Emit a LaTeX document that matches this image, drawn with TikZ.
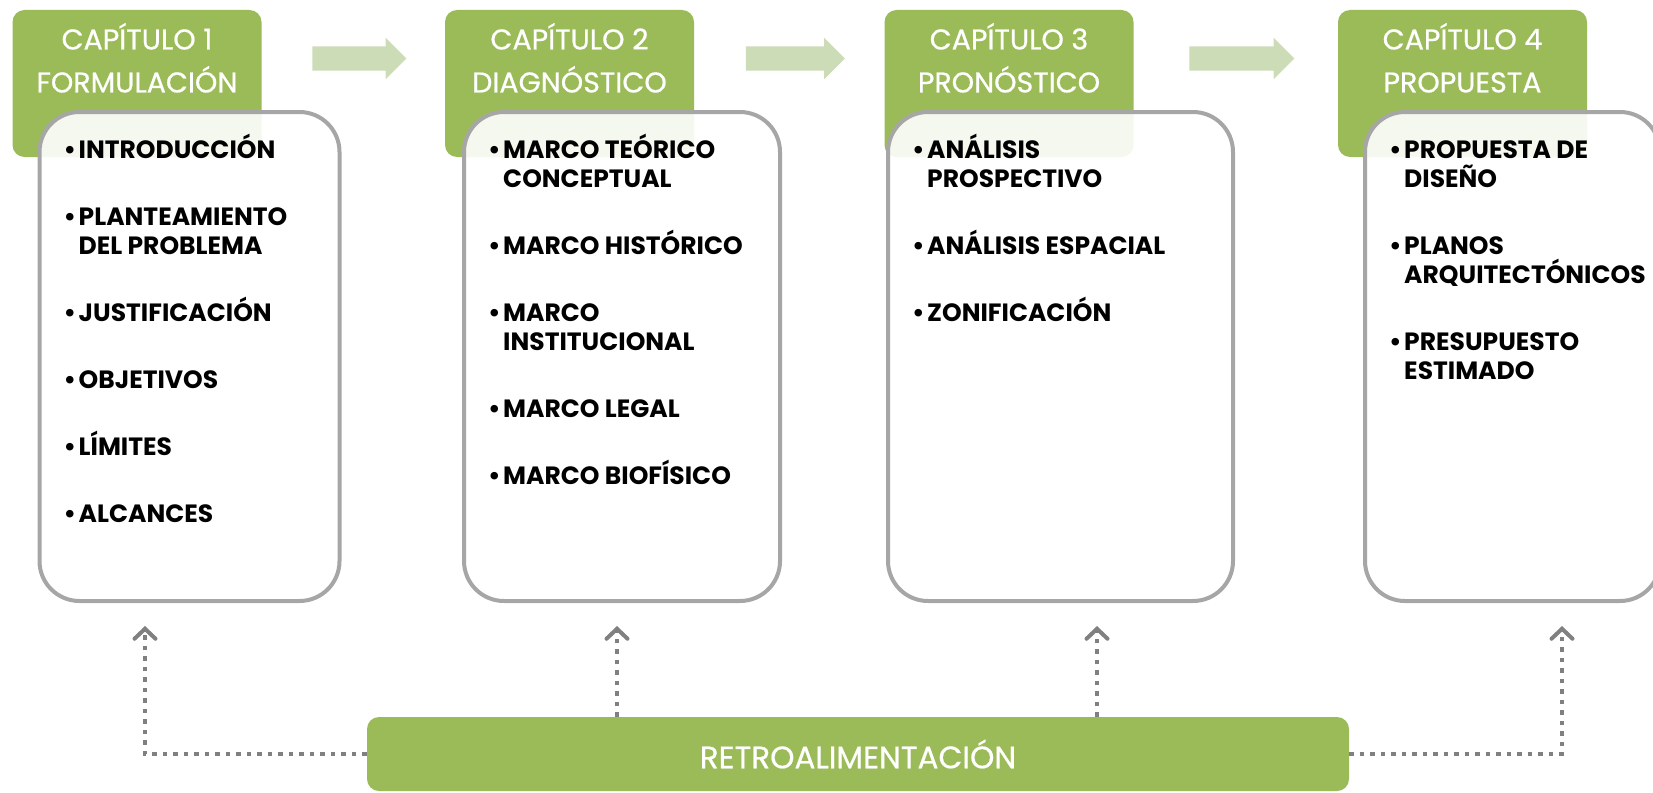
\documentclass[tikz,border=0pt]{standalone}
\usepackage{fontspec}
\setmainfont{Poppins}
\newfontfamily\capfont[FakeBold=0.6]{Poppins}
\usetikzlibrary{positioning,shapes.arrows,arrows.meta,calc}
\definecolor{verde}{HTML}{9BBB59}
\definecolor{verdeclaro}{HTML}{CCDCB7}
\definecolor{borde}{HTML}{A6A6A6}
\definecolor{punteado}{HTML}{808080}
\newcommand{\vin}[1]{\textbullet\kern2.5pt&\smash{#1}}
\newcommand{\sig}[1]{&\smash{#1}}
\tikzset{
    capbox/.style={fill=verde, rounded corners=12pt, minimum width=249pt, minimum height=147pt},
    captxt/.style={text=white, align=center, inner sep=0pt, font=\capfont\fontsize{28.5}{43}\selectfont},
    caja/.style={draw=borde, line width=4pt, fill=white, fill opacity=0.9, rounded corners=40pt, minimum height=489pt},
    lista/.style={inner sep=0pt, anchor=north west, font=\bfseries\fontsize{25}{29}\selectfont},
    flecha/.style={single arrow, fill=verdeclaro, inner sep=12pt, single arrow head extend=8.5pt},
    retro/.style={fill=verde, rounded corners=12pt, minimum width=982pt, minimum height=74pt, text=white, font=\capfont\fontsize{31}{36}\selectfont},
    flujo/.style={draw=punteado, line width=4pt, dash pattern=on 4.5pt off 6pt, -{Straight Barb[length=10pt,width=21pt,line cap=round]}}
}
\begin{document}
\begin{tikzpicture}[x=1pt, y=-1pt]
        \useasboundingbox (0,0) rectangle (1653,792);
        \clip (0,0) rectangle (1653,792);
        % capitulos
        \node[capbox] (c1) at (137,83.5) {};
        \node[capbox] (c2) at (569.5,83.5) {};
        \node[capbox] (c3) at (1009,83.5) {};
        \node[capbox] (c4) at (1462.5,83.5) {};
        \node[captxt, below=13pt of c1.north] (t1) {CAPÍTULO 1\\FORMULACIÓN};
        \node[captxt, below=13pt of c2.north] (t2) {CAPÍTULO 2\\DIAGNÓSTICO};
        \node[captxt, below=13pt of c3.north] (t3) {CAPÍTULO 3\\PRONÓSTICO};
        \node[captxt, below=13pt of c4.north] (t4) {CAPÍTULO 4\\PROPUESTA};
        \node[flecha, minimum height=94pt] (f1) at ($(c1.east)!.5!(c2.west)+(0,-25)$) {};
        \node[flecha, minimum height=99pt] (f2) at ($(c2.east)!.5!(c3.west)+(0,-25)$) {};
        \node[flecha, minimum height=105pt] (f3) at ($(c3.east)!.5!(c4.west)+(0,-25)$) {};
        % contenidos
        \node[caja, minimum width=300pt] (b1) at (189.5,356.5) {};
        \node[caja, minimum width=316pt] (b2) at (622,356.5) {};
        \node[caja, minimum width=345pt] (b3) at (1060.5,356.5) {};
        \node[caja, minimum width=295pt] (b4) at (1512.5,356.5) {};
        \node[lista, below right=27.5pt and 26pt of b1.north west] (l1) {\begin{tabular}{@{}l@{}l@{}}
            \vin{INTRODUCCIÓN}\\[38pt]
            \vin{PLANTEAMIENTO}\\ \sig{DEL PROBLEMA}\\[38pt]
            \vin{JUSTIFICACIÓN}\\[38pt]
            \vin{OBJETIVOS}\\[38pt]
            \vin{LÍMITES}\\[38pt]
            \vin{ALCANCES}
        \end{tabular}};
        \node[lista, below right=27.5pt and 26pt of b2.north west] (l2) {\begin{tabular}{@{}l@{}l@{}}
            \vin{MARCO TEÓRICO}\\ \sig{CONCEPTUAL}\\[38pt]
            \vin{MARCO HISTÓRICO}\\[38pt]
            \vin{MARCO}\\ \sig{INSTITUCIONAL}\\[38pt]
            \vin{MARCO LEGAL}\\[38pt]
            \vin{MARCO BIOFÍSICO}
        \end{tabular}};
        \node[lista, below right=27.5pt and 26pt of b3.north west] (l3) {\begin{tabular}{@{}l@{}l@{}}
            \vin{ANÁLISIS}\\ \sig{PROSPECTIVO}\\[38pt]
            \vin{ANÁLISIS ESPACIAL}\\[38pt]
            \vin{ZONIFICACIÓN}
        \end{tabular}};
        \node[lista, below right=27.5pt and 26pt of b4.north west] (l4) {\begin{tabular}{@{}l@{}l@{}}
            \vin{PROPUESTA DE}\\ \sig{DISEÑO}\\[38pt]
            \vin{PLANOS}\\ \sig{ARQUITECTÓNICOS}\\[38pt]
            \vin{PRESUPUESTO}\\ \sig{ESTIMADO}
        \end{tabular}};
        % retroalimentacion
        \node[retro] (rt) at (858,754) {RETROALIMENTACIÓN};
        \coordinate (fb1) at (145,626);
        \coordinate (fb2) at (617,626);
        \coordinate (fb3) at (1097,626);
        \coordinate (fb4) at (1562,626);
        \draw[flujo] (rt.west) -| (fb1);
        \draw[flujo] (rt.north -| fb2) -- (fb2);
        \draw[flujo] (rt.north -| fb3) -- (fb3);
        \draw[flujo] (rt.east) -| (fb4);
    \end{tikzpicture}
\end{document}
